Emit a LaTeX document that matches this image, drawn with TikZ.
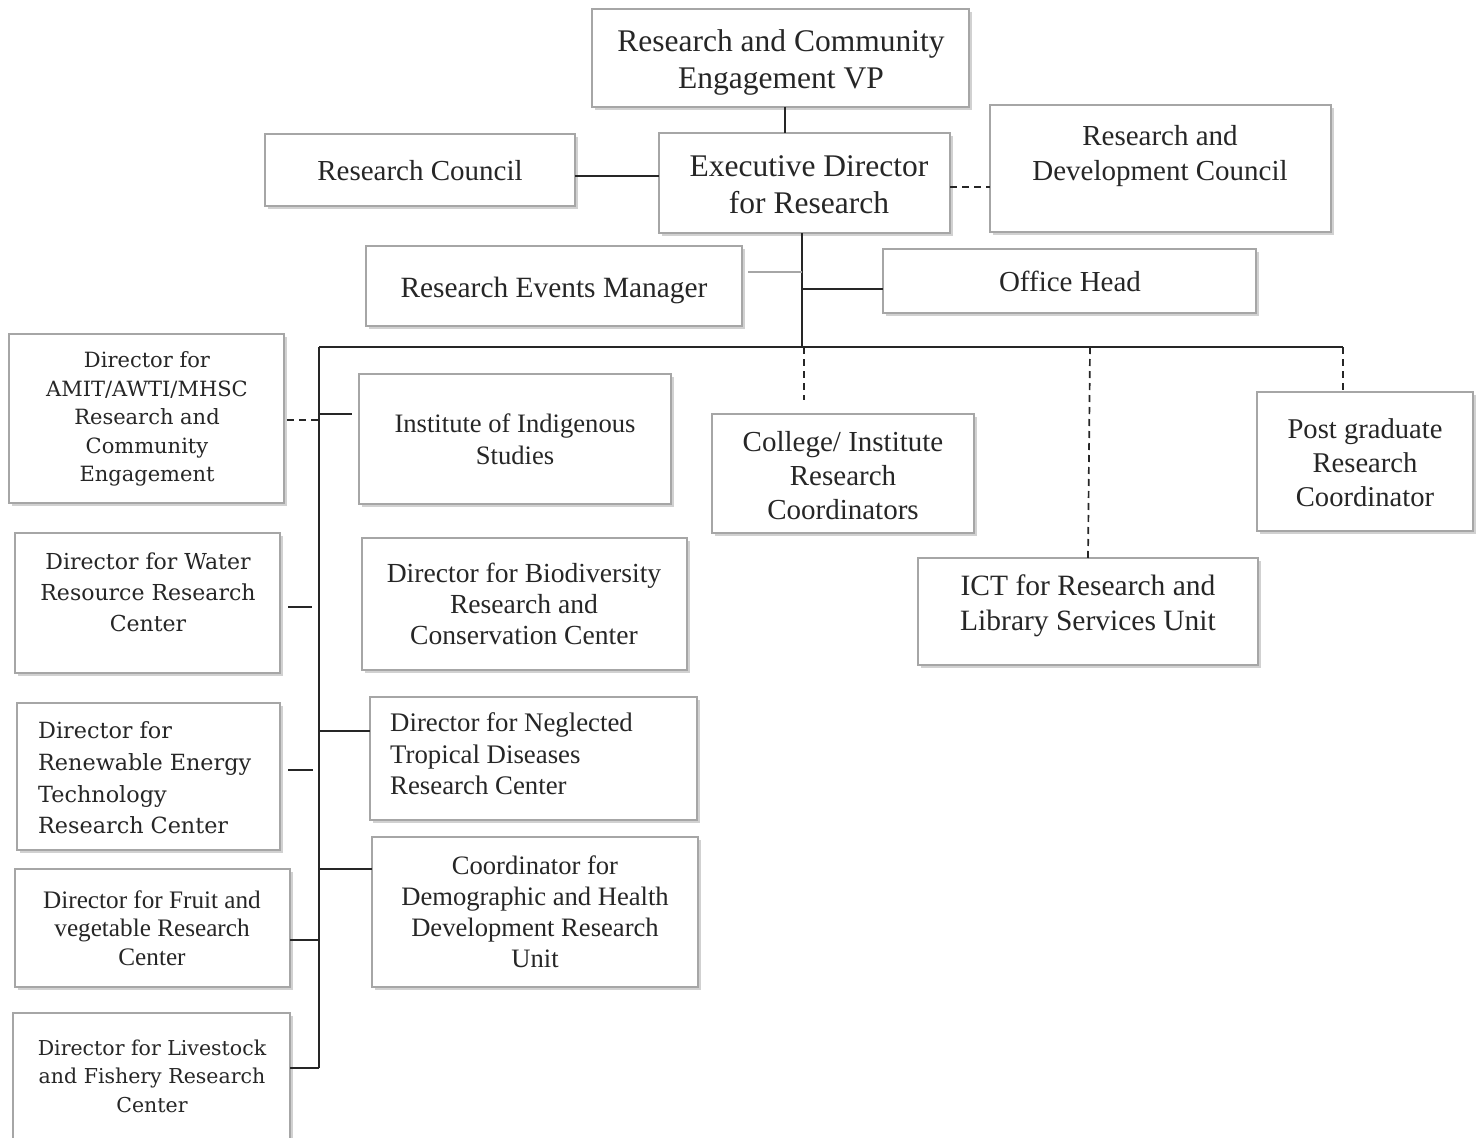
\documentclass[tikz,border=0pt]{standalone}
\usepackage{fontspec}
\setmainfont{Liberation Serif}
\newfontfamily\camb{DejaVu Serif}
\usetikzlibrary{shadows}
\newcommand{\fs}[2]{\fontsize{#1}{#2}\selectfont}
\begin{document}
\begin{tikzpicture}[x=1pt,y=-1pt,
  box/.style={draw=gray!70, line width=1.1pt, fill=white, inner sep=0pt, outer sep=0pt,
    drop shadow={shadow xshift=2.5pt, shadow yshift=-3pt, fill=gray!45, opacity=0.8}},
  lbl/.style={align=center, inner sep=0pt, text=black!85},
  lbll/.style={align=left, inner sep=0pt, text=black!85},
  conn/.style={draw=black!85, line width=1.7pt},
  dconn/.style={conn, dash pattern=on 7pt off 5pt},
  faint/.style={draw=gray!70, line width=1.4pt}]
\useasboundingbox (0,0) rectangle (1479,1137);
\clip (0,0) rectangle (1479,1137);
\fill[white] (0,0) rectangle (1479,1137);

% boxes
\node[box, minimum width=377pt, minimum height=98pt] (vp) at (780.5,58) {};
\node[box, minimum width=310pt, minimum height=72pt] (rc) at (420,170) {};
\node[box, minimum width=291pt, minimum height=100pt] (ed) at (804.5,183) {};
\node[box, minimum width=341pt, minimum height=127pt] (rdc) at (1160.5,168.5) {};
\node[box, minimum width=376pt, minimum height=80pt] (rem) at (554,286) {};
\node[box, minimum width=373pt, minimum height=64pt] (oh) at (1069.5,281) {};
\node[box, minimum width=275pt, minimum height=169pt] (amit) at (146.5,418.5) {};
\node[box, minimum width=312pt, minimum height=130pt] (iis) at (515,439) {};
\node[box, minimum width=262pt, minimum height=119pt] (col) at (843,473.5) {};
\node[box, minimum width=216pt, minimum height=139pt] (pg) at (1365,461.5) {};
\node[box, minimum width=340pt, minimum height=107pt] (ict) at (1088,611.5) {};
\node[box, minimum width=265pt, minimum height=140pt] (wat) at (147.5,603) {};
\node[box, minimum width=325pt, minimum height=132pt] (bio) at (524.5,604) {};
\node[box, minimum width=263pt, minimum height=147pt] (ren) at (148.5,776.5) {};
\node[box, minimum width=327pt, minimum height=123pt] (ntd) at (533.5,758.5) {};
\node[box, minimum width=275pt, minimum height=118pt] (fr) at (152.5,928) {};
\node[box, minimum width=326pt, minimum height=150pt] (dem) at (535,912) {};
\node[box, minimum width=277pt, minimum height=147pt] (lv) at (151.5,1086.5) {};

% texts
\node[lbl, font=\fs{31.5}{37}] (vp-t) at (781,62) {Research and Community\\Engagement VP};
\node[lbl, font=\fs{29}{34}] (rc-t) at (420,171) {Research Council};
\node[lbl, font=\fs{31.5}{37}] (ed-t) at (809,185) {Executive Director\\for Research};
\node[lbl, font=\fs{29}{35}] (rdc-t) at (1160,156) {Research and\\Development Council};
\node[lbl, font=\fs{29.4}{34}] (rem-t) at (554,290) {Research Events Manager};
\node[lbl, font=\fs{29}{34}] (oh-t) at (1070,281) {Office Head};
\node[lbl, font=\camb\fs{21}{28.5}] (amit-t) at (147,419) {Director for\\AMIT/AWTI/MHSC\\Research and\\Community\\Engagement};
\node[lbl, font=\fs{26.6}{32}] (iis-t) at (515,439) {Institute of Indigenous\\Studies};
\node[lbl, font=\fs{29}{34}] (col-t) at (843,476) {College/ Institute\\Research\\Coordinators};
\node[lbl, font=\fs{28.6}{34}] (pg-t) at (1365,463) {Post graduate\\Research\\Coordinator};
\node[lbl, font=\fs{29.5}{35}] (ict-t) at (1088,606) {ICT for Research and\\Library Services Unit};
\node[lbl, font=\camb\fs{22}{31}] (wat-t) at (148,592) {Director for Water\\Resource Research\\Center};
\node[lbl, font=\fs{27.6}{31}] (bio-t) at (524,604) {Director for Biodiversity\\Research and\\Conservation Center};
\node[lbll, font=\camb\fs{22.3}{31.7}, anchor=west] (ren-t) at (38,778) {Director for\\Renewable Energy\\Technology\\Research Center};
\node[lbll, font=\fs{26.8}{31.5}, anchor=west] (ntd-t) at (390,754) {Director for Neglected\\Tropical Diseases\\Research Center};
\node[lbl, font=\fs{25.2}{28.5}] (fr-t) at (152,928) {Director for Fruit and\\vegetable Research\\Center};
\node[lbl, font=\fs{26.6}{31}] (dem-t) at (535,912) {Coordinator for\\Demographic and Health\\Development Research\\Unit};
\node[lbl, font=\camb\fs{20.5}{28.5}] (lv-t) at (152,1076) {Director for Livestock\\and Fishery Research\\Center};

% junction coordinates
\coordinate (busL) at (319,347);
\coordinate (busM) at (802,347);
\coordinate (busR) at (1343,347);
\coordinate (spineB) at (319,1068);
\coordinate (colD) at (804,347);
\coordinate (colE) at (804,400);
\coordinate (ictD) at (1090,347);
\coordinate (iisE) at (352,414);
\coordinate (watE) at (312,607);
\coordinate (renE) at (313,770);
\coordinate (vpD) at (785,107);

% connectors
\draw[conn] (vpD) -- (vpD |- ed.north);
\draw[conn] (rc.east |- 0,176) -- (ed.west |- 0,176);
\draw[dconn] (ed.east |- 0,187) -- (rdc.west |- 0,187);
\draw[conn] (busM |- ed.south) -- (busM);
\draw[faint] (rem.east |- 0,272) ++(6,0) -- (busM |- 0,272);
\draw[conn] (busM |- 0,289) -- (oh.west |- 0,289);
\draw[conn] (busL) -- (busR);
\draw[conn] (busL) -- (spineB);
\draw[dconn] (colD) -- (colE);
\draw[dconn] (ictD) -- (ict.north);
\draw[dconn] (busR) -- (pg.north -| busR);
\draw[dconn] (amit.east |- 0,420) ++(3,0) -- (busL |- 0,420);
\draw[conn] (busL |- iisE) -- (iisE);
\draw[conn] (wat.east |- watE) ++(8,0) -- (watE);
\draw[conn] (ren.east |- renE) ++(8,0) -- (renE);
\draw[conn] (busL |- 0,731) -- (ntd.west |- 0,731) ++(-6,0);
\draw[conn] (busL |- 0,869) -- (dem.west |- 0,869);
\draw[conn] (fr.east |- 0,940) -- (busL |- 0,940);
\draw[conn] (lv.east |- spineB) -- (spineB);
\end{tikzpicture}
\end{document}
